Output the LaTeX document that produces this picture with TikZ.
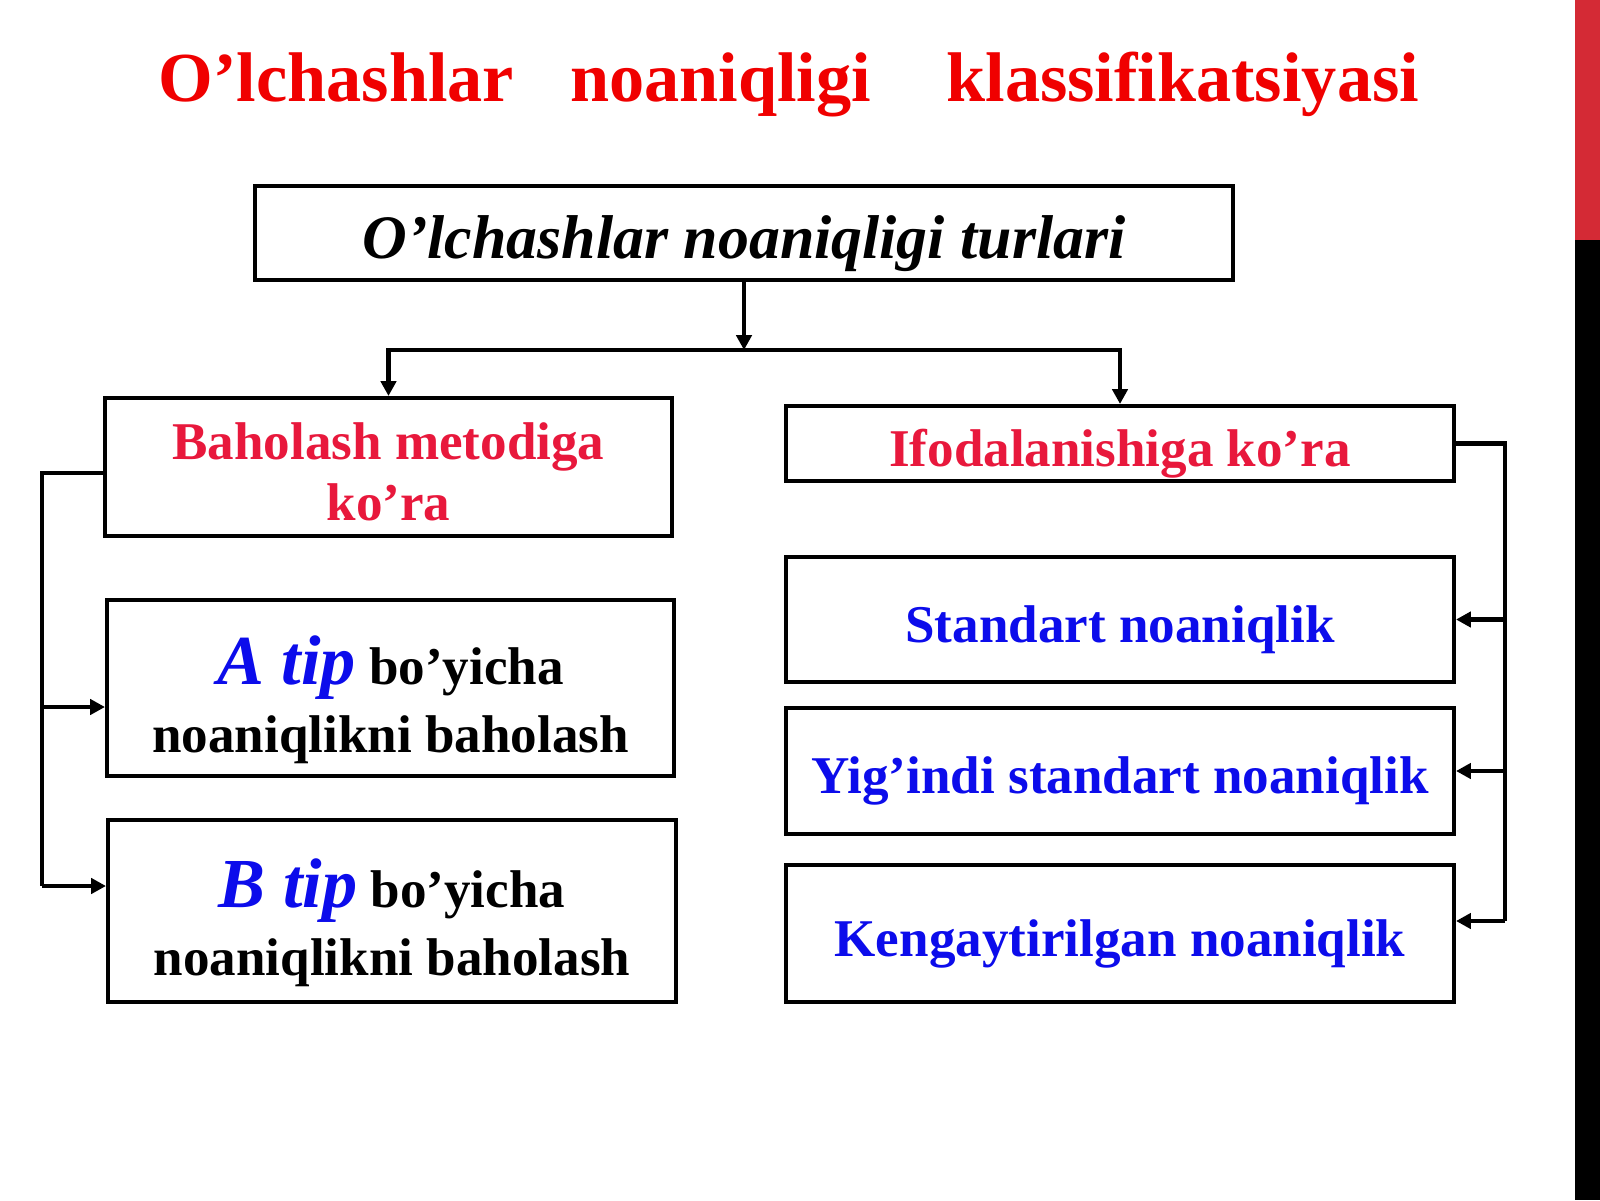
\documentclass[tikz,border=0pt]{standalone}
\usepackage{fontspec}
\setmainfont{Liberation Serif}
\usetikzlibrary{arrows.meta}
\definecolor{titlered}{RGB}{240,0,0}
\definecolor{headred}{RGB}{232,24,60}
\definecolor{itemblue}{RGB}{12,12,235}
\definecolor{barred}{RGB}{212,42,53}
\newcommand\lift[1]{\rule{0pt}{#1}}
\tikzset{
  box/.style={draw,line width=1.15pt,align=center,inner sep=0pt,
    font=\fontsize{15.1}{18.1}\selectfont\bfseries},
  link/.style={line width=1.15pt},
  flow/.style={-{Triangle[length=4.2pt,width=4.3pt]}},
}

\begin{document}
\begin{tikzpicture}
\useasboundingbox (0,0) rectangle (16,12);
\fill[white] (0,0) rectangle (16,12);
%side bar
\fill[barred] (15.75,9.6) rectangle (16,12);
\fill[black] (15.75,0) rectangle (16,9.6);
%title
\node[anchor=base west,inner sep=0pt,text=titlered,font=\fontsize{20}{24}\selectfont\bfseries] (title) at (1.58,10.98) {O’lchashlar\hspace{0.8em}noaniqligi\hspace{1.07em}klassifikatsiyasi};
%
\node[box,font=\fontsize{17.6}{21}\selectfont\bfseries\itshape,minimum width=9.78cm,minimum height=0.94cm] (types) at (7.44,9.67) {\lift{1.03em}O’lchashlar noaniqligi turlari};
%left column
\node[box,text=headred,minimum width=5.67cm,minimum height=1.38cm] (method) at (3.885,7.33) {\lift{0.88em}Baholash metodiga\\[-0.7pt] ko’ra};
\node[box,minimum width=5.67cm,minimum height=1.76cm] (typeA) at (3.905,5.12) {\lift{1.36em}\textcolor{itemblue}{\fontsize{20}{24}\selectfont\itshape A tip} bo’yicha\\[1pt] noaniqlikni baholash};
\node[box,minimum width=5.68cm,minimum height=1.82cm] (typeB) at (3.92,2.89) {\lift{1.36em}\textcolor{itemblue}{\fontsize{20}{24}\selectfont\itshape B tip} bo’yicha\\[1pt] noaniqlikni baholash};
%right column
\node[box,text=headred,minimum width=6.68cm,minimum height=0.75cm] (expr) at (11.20,7.565) {\lift{1.07em}Ifodalanishiga ko’ra};
\node[box,text=itemblue,minimum width=6.68cm,minimum height=1.25cm] (std) at (11.20,5.805) {\lift{1.07em}Standart noaniqlik};
\node[box,text=itemblue,minimum width=6.68cm,minimum height=1.26cm] (sum) at (11.20,4.29) {\lift{1.07em}Yig’indi standart noaniqlik};
\node[box,text=itemblue,minimum width=6.68cm,minimum height=1.37cm] (ext) at (11.20,2.665) {\lift{1.07em}Kengaytirilgan noaniqlik};
%
\coordinate (split) at (7.44,8.50);
\draw[link,flow] (types.south) -- (split);
\draw[link,flow] (split) -| (method.north);
\draw[link,flow] (split) -| (expr.north);
%
\coordinate (ltail) at (0.42,3.14);
\coordinate (aIn) at ([yshift=-0.19cm]typeA.west);
\draw[link] ([yshift=-0.06cm]method.west) -| (ltail);
\draw[link,flow] (aIn -| ltail) -- (aIn);
\draw[link,flow] (ltail) -- (ltail -| typeB.west);
%
\coordinate (rtail) at (15.05,2.79);
\draw[link] (expr.east) -| (rtail);
\draw[link,flow] (std.east -| rtail) -- (std.east);
\draw[link,flow] (sum.east -| rtail) -- (sum.east);
\draw[link,flow] (rtail) -- (rtail -| ext.east);
\end{tikzpicture}
\end{document}
